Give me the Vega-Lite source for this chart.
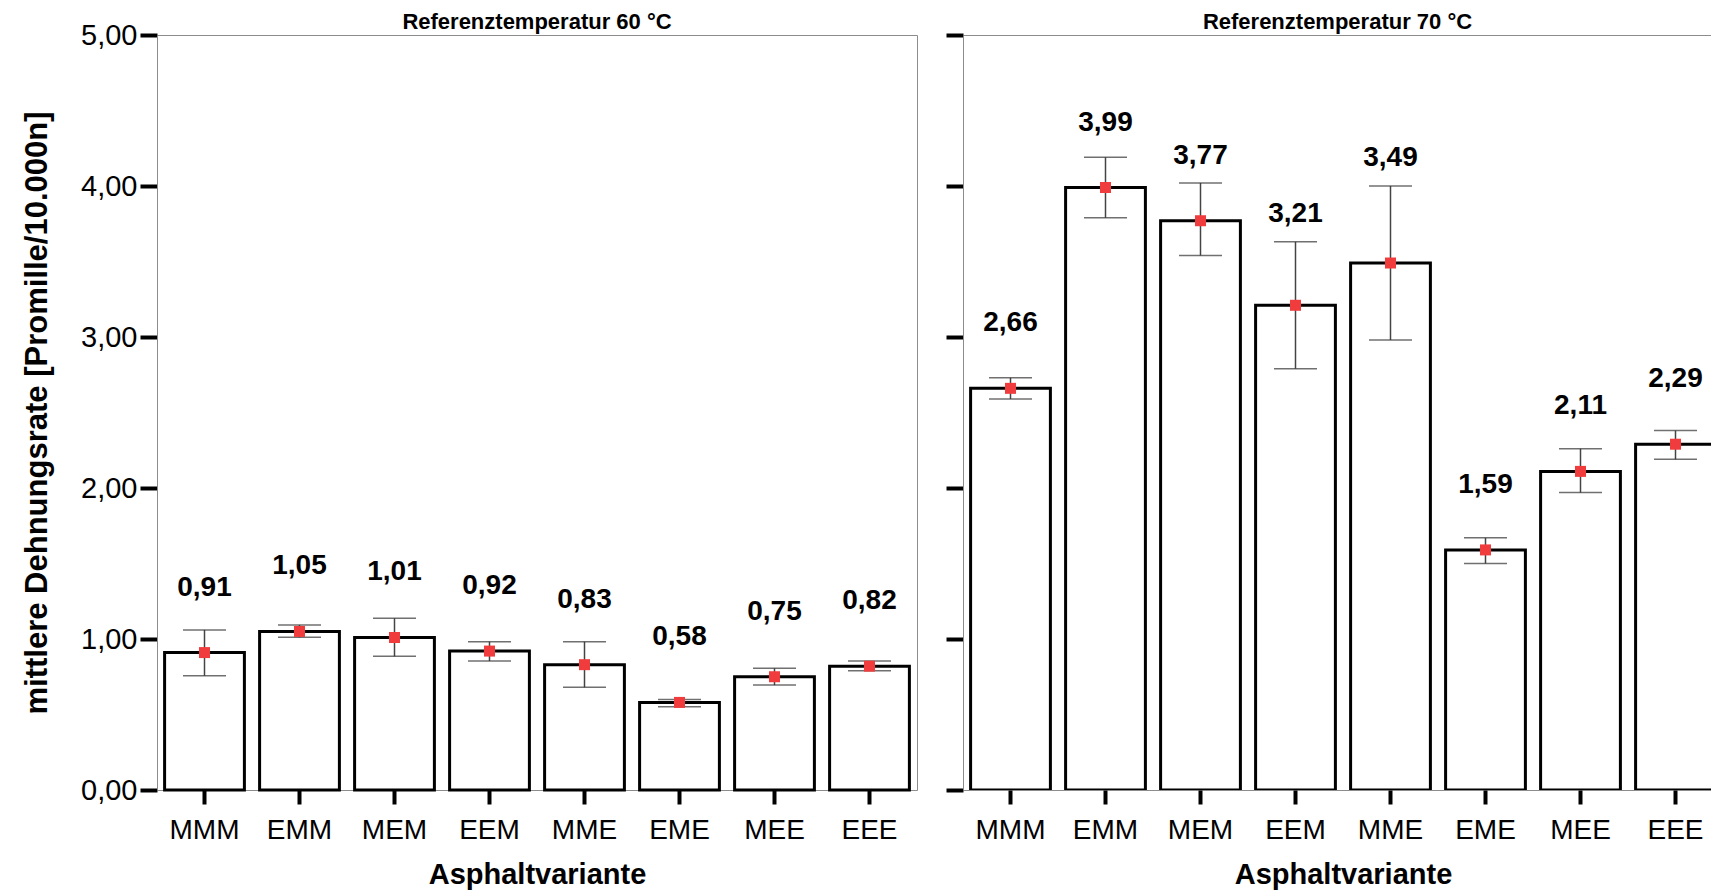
{
  "$schema": "https://vega.github.io/schema/vega-lite/v6.json",
  "autosize": {"type": "pad"},
  "padding": {"left": 21, "top": 10, "right": 0, "bottom": 0},
  "bounds": "flush",
  "spacing": 46,
  "background": "white",
  "config": {
    "locale": {"number": {"decimal": ",", "thousands": ".", "grouping": [3], "currency": ["", " €"]}},
    "font": "Liberation Sans",
    "view": {"stroke": "#8c8c8c", "strokeWidth": 1},
    "axis": {"grid": false, "domainColor": "#8c8c8c", "domainWidth": 1, "tickColor": "black", "labelColor": "black", "titleColor": "black", "labelFont": "Liberation Sans", "titleFont": "Liberation Sans"}
  },
  "data": {
    "values": [
      {"temp": 60, "variante": "MMM", "mean": 0.91, "lo": 0.757, "hi": 1.06},
      {"temp": 60, "variante": "EMM", "mean": 1.05, "lo": 1.011, "hi": 1.093},
      {"temp": 60, "variante": "MEM", "mean": 1.01, "lo": 0.885, "hi": 1.137},
      {"temp": 60, "variante": "EEM", "mean": 0.92, "lo": 0.854, "hi": 0.982},
      {"temp": 60, "variante": "MME", "mean": 0.83, "lo": 0.68, "hi": 0.982},
      {"temp": 60, "variante": "EME", "mean": 0.58, "lo": 0.552, "hi": 0.6},
      {"temp": 60, "variante": "MEE", "mean": 0.75, "lo": 0.695, "hi": 0.806},
      {"temp": 60, "variante": "EEE", "mean": 0.82, "lo": 0.79, "hi": 0.854},
      {"temp": 70, "variante": "MMM", "mean": 2.66, "lo": 2.59, "hi": 2.73},
      {"temp": 70, "variante": "EMM", "mean": 3.99, "lo": 3.79, "hi": 4.19},
      {"temp": 70, "variante": "MEM", "mean": 3.77, "lo": 3.54, "hi": 4.02},
      {"temp": 70, "variante": "EEM", "mean": 3.21, "lo": 2.79, "hi": 3.63},
      {"temp": 70, "variante": "MME", "mean": 3.49, "lo": 2.98, "hi": 4.0},
      {"temp": 70, "variante": "EME", "mean": 1.59, "lo": 1.5, "hi": 1.67},
      {"temp": 70, "variante": "MEE", "mean": 2.11, "lo": 1.97, "hi": 2.26},
      {"temp": 70, "variante": "EEE", "mean": 2.29, "lo": 2.19, "hi": 2.38}
    ]
  },
  "hconcat": [
    {
      "width": 760,
      "height": 755,
      "transform": [{"filter": "datum.temp == 60"}],
      "title": {"text": "Referenztemperatur 60 °C", "fontSize": 22, "fontWeight": "bold", "color": "black", "anchor": "middle", "frame": "group", "baseline": "alphabetic", "offset": -30},
      "encoding": {
        "x": {
          "field": "variante", "type": "nominal",
          "sort": ["MMM", "EMM", "MEM", "EEM", "MME", "EME", "MEE", "EEE"],
          "scale": {"paddingInner": 0.16, "paddingOuter": 0.08},
          "axis": {"title": "Asphaltvariante", "domain": false, "labelAngle": 0, "tickSize": 14, "tickWidth": 4, "labelFontSize": 28, "labelPadding": 12, "titleFontSize": 29, "titleFontWeight": "bold", "titlePadding": 16}
        }
      },
      "layer": [
        {
          "mark": {"type": "bar", "fill": "white", "stroke": "black", "strokeWidth": 3},
          "encoding": {
            "y": {
              "field": "mean", "type": "quantitative",
              "title": "mittlere Dehnungsrate [Promille/10.000n]",
              "scale": {"domain": [0, 5], "nice": false},
              "axis": {"values": [0, 1, 2, 3, 4, 5], "format": ".2f", "tickSize": 17, "tickWidth": 4, "labelFontSize": 29, "labelPadding": 3, "titleFontSize": 31, "titleFontWeight": "bold", "titlePadding": 27}
            }
          }
        },
        {
          "mark": {"type": "rule", "color": "#444444", "strokeWidth": 1.5},
          "encoding": {
            "y": {"field": "lo", "type": "quantitative", "title": "mittlere Dehnungsrate [Promille/10.000n]"},
            "y2": {"field": "hi"}
          }
        },
        {
          "mark": {"type": "tick", "color": "#333333", "size": 43, "thickness": 1.5},
          "encoding": {"y": {"field": "lo", "type": "quantitative", "title": "mittlere Dehnungsrate [Promille/10.000n]"}}
        },
        {
          "mark": {"type": "tick", "color": "#333333", "size": 43, "thickness": 1.5},
          "encoding": {"y": {"field": "hi", "type": "quantitative", "title": "mittlere Dehnungsrate [Promille/10.000n]"}}
        },
        {
          "mark": {"type": "point", "shape": "square", "filled": true, "color": "#f03c3c", "size": 121, "opacity": 1, "strokeWidth": 0},
          "encoding": {"y": {"field": "mean", "type": "quantitative", "title": "mittlere Dehnungsrate [Promille/10.000n]"}}
        },
        {
          "transform": [{"filter": "datum.hi - datum.mean <= 0.35"}],
          "mark": {"type": "text", "fontSize": 28, "fontWeight": "bold", "color": "black", "dy": -65, "baseline": "middle"},
          "encoding": {
            "y": {"field": "mean", "type": "quantitative", "title": "mittlere Dehnungsrate [Promille/10.000n]"},
            "text": {"field": "mean", "type": "quantitative", "format": ".2f"}
          }
        },
        {
          "transform": [{"filter": "datum.hi - datum.mean > 0.35"}],
          "mark": {"type": "text", "fontSize": 28, "fontWeight": "bold", "color": "black", "dy": -28, "baseline": "middle"},
          "encoding": {
            "y": {"field": "hi", "type": "quantitative", "title": "mittlere Dehnungsrate [Promille/10.000n]"},
            "text": {"field": "mean", "type": "quantitative", "format": ".2f"}
          }
        }
      ]
    },
    {
      "width": 749,
      "height": 755,
      "transform": [{"filter": "datum.temp == 70"}],
      "title": {"text": "Referenztemperatur 70 °C", "fontSize": 22, "fontWeight": "bold", "color": "black", "anchor": "middle", "frame": "group", "baseline": "alphabetic", "offset": -18},
      "encoding": {
        "x": {
          "field": "variante", "type": "nominal",
          "sort": ["MMM", "EMM", "MEM", "EEM", "MME", "EME", "MEE", "EEE"],
          "scale": {"paddingInner": 0.16, "paddingOuter": 0.08, "range": [0, 760]},
          "axis": {"title": "Asphaltvariante", "domain": false, "labelAngle": 0, "tickSize": 14, "tickWidth": 4, "labelFontSize": 28, "labelPadding": 12, "titleFontSize": 29, "titleFontWeight": "bold", "titlePadding": 16}
        }
      },
      "layer": [
        {
          "mark": {"type": "bar", "fill": "white", "stroke": "black", "strokeWidth": 3, "clip": true},
          "encoding": {
            "y": {
              "field": "mean", "type": "quantitative",
              "title": null,
              "scale": {"domain": [0, 5], "nice": false},
              "axis": {"labels": false, "values": [0, 1, 2, 3, 4, 5], "tickSize": 17, "tickWidth": 4}
            }
          }
        },
        {
          "mark": {"type": "rule", "color": "#444444", "strokeWidth": 1.5, "clip": true},
          "encoding": {
            "y": {"field": "lo", "type": "quantitative", "title": null},
            "y2": {"field": "hi"}
          }
        },
        {
          "mark": {"type": "tick", "color": "#333333", "size": 43, "thickness": 1.5, "clip": true},
          "encoding": {"y": {"field": "lo", "type": "quantitative", "title": null}}
        },
        {
          "mark": {"type": "tick", "color": "#333333", "size": 43, "thickness": 1.5, "clip": true},
          "encoding": {"y": {"field": "hi", "type": "quantitative", "title": null}}
        },
        {
          "mark": {"type": "point", "shape": "square", "filled": true, "color": "#f03c3c", "size": 121, "opacity": 1, "strokeWidth": 0, "clip": true},
          "encoding": {"y": {"field": "mean", "type": "quantitative", "title": null}}
        },
        {
          "transform": [{"filter": "datum.hi - datum.mean <= 0.35"}],
          "mark": {"type": "text", "fontSize": 28, "fontWeight": "bold", "color": "black", "dy": -65, "baseline": "middle", "clip": true},
          "encoding": {
            "y": {"field": "mean", "type": "quantitative", "title": null},
            "text": {"field": "mean", "type": "quantitative", "format": ".2f"}
          }
        },
        {
          "transform": [{"filter": "datum.hi - datum.mean > 0.35"}],
          "mark": {"type": "text", "fontSize": 28, "fontWeight": "bold", "color": "black", "dy": -28, "baseline": "middle", "clip": true},
          "encoding": {
            "y": {"field": "hi", "type": "quantitative", "title": null},
            "text": {"field": "mean", "type": "quantitative", "format": ".2f"}
          }
        }
      ]
    }
  ]
}
